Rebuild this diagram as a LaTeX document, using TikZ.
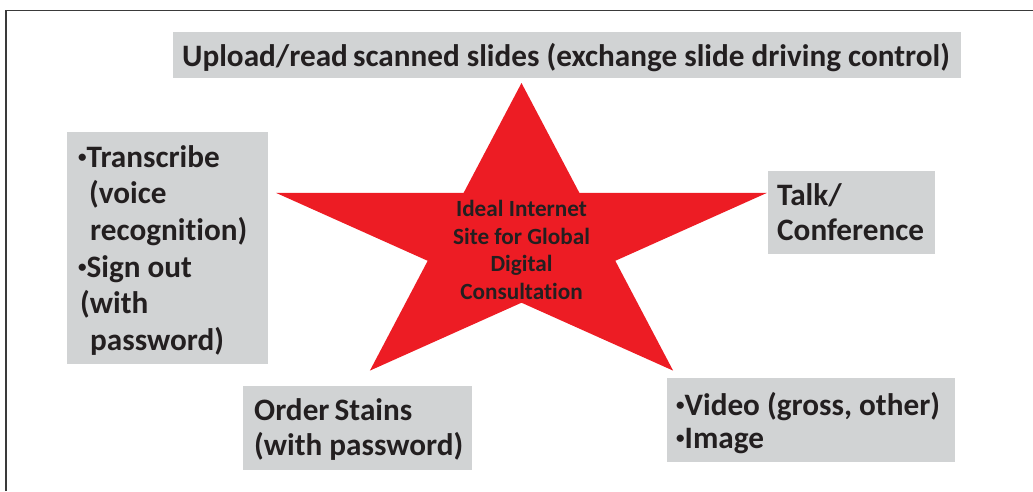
\documentclass[tikz,border=0pt]{standalone}
\usepackage{fontspec}
\usepackage{graphicx}
\setmainfont{Carlito}[Ligatures=NoCommon]
\definecolor{starred}{HTML}{ED1C24}
\definecolor{panelgray}{HTML}{D1D3D4}
\definecolor{ink}{HTML}{231F20}
\definecolor{framegray}{HTML}{3A3A3A}
% small list bullet
\newcommand{\listdot}{\raisebox{0.16em}{\fontsize{17}{17}\selectfont •}}
\begin{document}
\begin{tikzpicture}[x=1pt,y=-1pt,
  panel/.style={fill=panelgray, draw=none, inner sep=0pt, anchor=north west},
  itemtext/.style={text=ink, font=\fontsize{31.2}{36.6}\selectfont\bfseries, inner sep=0pt, anchor=base west},
  coretext/.style={text=ink, font=\fontsize{23.2}{27.8}\selectfont\bfseries, inner sep=0pt, align=center}
]
\useasboundingbox (0,0) rectangle (1033,491);

% frame edges (top and left)
\draw[framegray, line width=1.5pt] (6,491) -- (6,10.5) -- (1033,10.5);

% central star
\fill[starred] (521.5,83) -- (579.4,192.9) -- (766.9,192.9) -- (615.3,260.8)
  -- (673.1,370.6) -- (521.5,302.7) -- (369.9,370.6) -- (427.7,260.8)
  -- (276.1,192.9) -- (463.6,192.9) -- cycle;
\node[coretext] (core) at (521.5,250) {Ideal Internet\\Site for Global\\Digital\\Consultation};

% grey panels
\node[panel, minimum width=788pt, minimum height=46pt] (uploadbox) at (173,32) {};
\node[panel, minimum width=201pt, minimum height=232pt] (leftbox) at (67,132) {};
\node[panel, minimum width=167pt, minimum height=83pt] (talkbox) at (768,171) {};
\node[panel, minimum width=229pt, minimum height=84pt] (orderbox) at (243,386) {};
\node[panel, minimum width=288pt, minimum height=84pt] (videobox) at (667,378) {};

% panel texts
\node[itemtext, anchor=base] (upload) at (566,66) {Upload/read\,scanned slides (exchange slide driving control)};

\node[itemtext] (t1) at (78,167) {\listdot Transcribe};
\node[itemtext] (t2) at (89,203) {(voice};
\node[itemtext] (t3) at (90,240) {recognition)};
\node[itemtext] (t4) at (78,277) {\listdot Sign out};
\node[itemtext] (t5) at (80,313) {(with};
\node[itemtext] (t6) at (90,350) {password)};

\node[itemtext] (talk1) at (777,205) {Talk/};
\node[itemtext] (talk2) at (777,240) {Conference};

\node[itemtext] (order1) at (254,420) {Order\,Stains};
\node[itemtext] (order2) at (254,455) {(with password)};

\node[itemtext] (video1) at (676,415) {\listdot Video (gross, other)};
\node[itemtext] (video2) at (676,448) {\listdot Image};
\end{tikzpicture}
\end{document}
